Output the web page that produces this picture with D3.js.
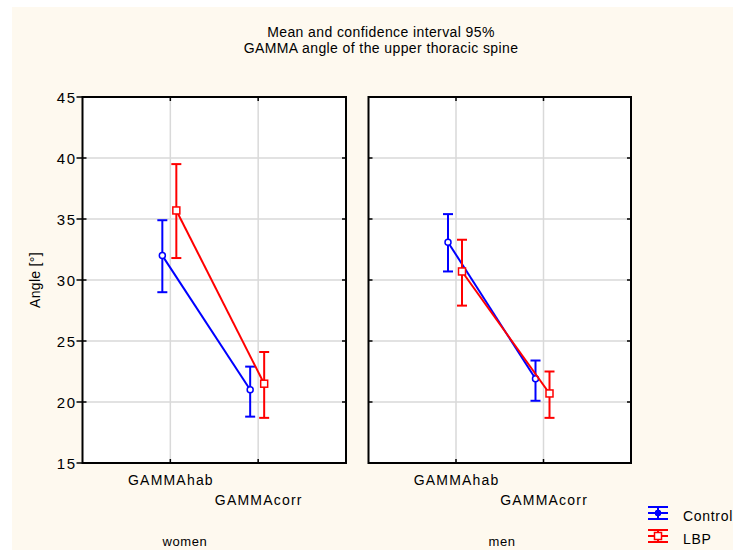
<!DOCTYPE html>
<html>
<head>
<meta charset="utf-8">
<script src="https://cdn.jsdelivr.net/npm/d3@7"></script>
<style>
  body { margin: 0; background: #fff; }
  svg { display: block; }
</style>
</head>
<body>
<script>
// chart values
const panels = ['women', 'men']
const conditions = ['GAMMAhab', 'GAMMAcorr']
const groups = ['Control', 'LBP']
const yTicks = [15, 20, 25, 30, 35, 40, 45]

// mean, lower CI, upper CI  -> [panel][condition]
const controlMean = [[32.0, 21.0], [33.1, 21.9]]
const controlLow  = [[29.0, 18.8], [30.7, 20.1]]
const controlHigh = [[34.9, 22.9], [35.4, 23.4]]
const lbpMean = [[35.7, 21.5], [30.7, 20.7]]
const lbpLow  = [[31.8, 18.7], [27.9, 18.7]]
const lbpHigh = [[39.5, 24.1], [33.3, 22.5]]

const titleLines = ['Mean and confidence interval 95%', 'GAMMA angle of the upper thoracic spine']
const yLabel = 'Angle [°]'

// layout
const width = 733, height = 550
const font = 'Liberation Sans, Arial, sans-serif'
const colors = {Control: '#0000ff', LBP: '#ff0000'}
const dodge = {Control: -8, LBP: 6}
const plotTop = 97, plotBottom = 463
const panelX = [[82.5, 346], [368.5, 631]]
const facetLabelX = [185, 502]

const svg = d3.select('body').append('svg')
  .attr('width', width)
  .attr('height', height)
  .attr('font-family', font)

svg.append('rect')
  .attr('x', 12).attr('y', 7)
  .attr('width', width - 12).attr('height', height - 7)
  .attr('fill', '#fef9ef')

// title
svg.append('text')
  .attr('x', 381).attr('y', 37)
  .attr('text-anchor', 'middle')
  .attr('font-size', 14)
  .attr('letter-spacing', 0.4)
  .selectAll('tspan').data(titleLines).join('tspan')
  .attr('x', 381)
  .attr('dy', (d, i) => i ? 16 : 0)
  .text(d => d)

const y = d3.scaleLinear().domain([15, 45]).range([plotBottom, plotTop])

// y axis label
svg.append('text')
  .attr('transform', `translate(40, ${(plotTop + plotBottom) / 2}) rotate(-90)`)
  .attr('text-anchor', 'middle')
  .attr('font-size', 14)
  .attr('letter-spacing', 0.3)
  .text(yLabel)

const series = {
  Control: {mean: controlMean, low: controlLow, high: controlHigh},
  LBP: {mean: lbpMean, low: lbpLow, high: lbpHigh}
}

panels.forEach((panel, p) => {
  const [x0, x1] = panelX[p]
  const x = d3.scalePoint().domain(conditions).range([x0, x1]).padding(1)
  const g = svg.append('g')

  g.append('rect')
    .attr('x', x0).attr('y', plotTop)
    .attr('width', x1 - x0).attr('height', plotBottom - plotTop)
    .attr('fill', '#fff')

  // grid
  g.selectAll('line.hgrid').data(yTicks.slice(1, -1)).join('line')
    .attr('class', 'hgrid')
    .attr('x1', x0).attr('x2', x1)
    .attr('y1', d => y(d)).attr('y2', d => y(d))
    .attr('stroke', '#d9d9d9').attr('stroke-width', 1.5)
  g.selectAll('line.vgrid').data(conditions).join('line')
    .attr('class', 'vgrid')
    .attr('x1', d => x(d)).attr('x2', d => x(d))
    .attr('y1', plotTop).attr('y2', plotBottom)
    .attr('stroke', '#d9d9d9').attr('stroke-width', 1.5)

  // ticks
  const tk = 4
  g.selectAll('line.rt').data(yTicks).join('line')
    .attr('x1', x1 - tk).attr('x2', x1)
    .attr('y1', d => y(d)).attr('y2', d => y(d))
    .attr('stroke', '#000').attr('stroke-width', 1.5)
  g.selectAll('line.lt').data(yTicks).join('line')
    .attr('x1', p === 0 ? x0 - 6 : x0).attr('x2', x0 + tk)
    .attr('y1', d => y(d)).attr('y2', d => y(d))
    .attr('stroke', '#000').attr('stroke-width', 1.5)
  g.selectAll('line.tt').data(conditions).join('line')
    .attr('x1', d => x(d)).attr('x2', d => x(d))
    .attr('y1', plotTop).attr('y2', plotTop + tk)
    .attr('stroke', '#000').attr('stroke-width', 1.5)
  g.selectAll('line.bt').data(conditions).join('line')
    .attr('x1', d => x(d)).attr('x2', d => x(d))
    .attr('y1', plotBottom - tk).attr('y2', plotBottom)
    .attr('stroke', '#000').attr('stroke-width', 1.5)

  g.append('rect')
    .attr('x', x0).attr('y', plotTop)
    .attr('width', x1 - x0).attr('height', plotBottom - plotTop)
    .attr('fill', 'none').attr('stroke', '#000').attr('stroke-width', 2)

  // y tick labels on the first panel
  if (p === 0) {
    g.selectAll('text.yl').data(yTicks).join('text')
      .attr('x', 76.5).attr('y', d => y(d) + 5.5)
      .attr('text-anchor', 'end')
      .attr('font-size', 15)
      .attr('letter-spacing', 1.5)
      .text(d => d)
  }

  // x labels, staggered
  g.selectAll('text.xl').data(conditions).join('text')
    .attr('x', d => x(d) + 0.6).attr('y', (d, i) => 485 + i * 20)
    .attr('text-anchor', 'middle')
    .attr('font-size', 14)
    .attr('letter-spacing', 1.2)
    .text(d => d)

  g.append('text')
    .attr('x', facetLabelX[p]).attr('y', 546)
    .attr('text-anchor', 'middle')
    .attr('font-size', 13)
    .attr('letter-spacing', 0.6)
    .text(panel)

  groups.forEach(grp => {
    const s = series[grp]
    const c = colors[grp]
    const pts = conditions.map((cond, i) => ({
      x: x(cond) + dodge[grp], m: s.mean[p][i], lo: s.low[p][i], hi: s.high[p][i]
    }))
    const gg = g.append('g')
    gg.append('path')
      .attr('d', d3.line().x(d => d.x).y(d => y(d.m))(pts))
      .attr('fill', 'none').attr('stroke', c).attr('stroke-width', 2)
    gg.selectAll('line.eb').data(pts).join('line')
      .attr('x1', d => d.x).attr('x2', d => d.x)
      .attr('y1', d => y(d.lo)).attr('y2', d => y(d.hi))
      .attr('stroke', c).attr('stroke-width', 2)
    gg.selectAll('line.cl').data(pts).join('line')
      .attr('x1', d => d.x - 5).attr('x2', d => d.x + 5)
      .attr('y1', d => y(d.lo)).attr('y2', d => y(d.lo))
      .attr('stroke', c).attr('stroke-width', 2)
    gg.selectAll('line.ch').data(pts).join('line')
      .attr('x1', d => d.x - 5).attr('x2', d => d.x + 5)
      .attr('y1', d => y(d.hi)).attr('y2', d => y(d.hi))
      .attr('stroke', c).attr('stroke-width', 2)
    if (grp === 'Control') {
      gg.selectAll('circle').data(pts).join('circle')
        .attr('cx', d => d.x).attr('cy', d => y(d.m)).attr('r', 3)
        .attr('fill', '#fff').attr('stroke', c).attr('stroke-width', 1.5)
    } else {
      gg.selectAll('rect').data(pts).join('rect')
        .attr('x', d => d.x - 3.5).attr('y', d => y(d.m) - 3.5)
        .attr('width', 7).attr('height', 7)
        .attr('fill', '#fff').attr('stroke', c).attr('stroke-width', 1.5)
    }
  })
})

// legend
const legend = svg.append('g').selectAll('g').data(groups).join('g')
  .attr('transform', (d, i) => `translate(648, ${513 + i * 23})`)
legend.each(function (grp) {
  const lg = d3.select(this)
  const c = colors[grp]
  ;[-6, 0, 6].forEach(dy => {
    lg.append('line').attr('x1', 0).attr('x2', 20).attr('y1', dy).attr('y2', dy)
      .attr('stroke', c).attr('stroke-width', 2)
  })
  lg.append('line').attr('x1', 10).attr('x2', 10).attr('y1', -6).attr('y2', 6)
    .attr('stroke', c).attr('stroke-width', 2)
  if (grp === 'Control') {
    lg.append('circle').attr('cx', 10).attr('cy', 0).attr('r', 3)
      .attr('fill', c).attr('stroke', c)
  } else {
    lg.append('rect').attr('x', 6.5).attr('y', -3.5).attr('width', 7).attr('height', 7)
      .attr('fill', '#fff').attr('stroke', c).attr('stroke-width', 1.5)
  }
  lg.append('text').attr('x', 35).attr('y', 8)
    .attr('font-size', 14)
    .attr('letter-spacing', 0.7)
    .text(grp)
})
</script>
</body>
</html>
